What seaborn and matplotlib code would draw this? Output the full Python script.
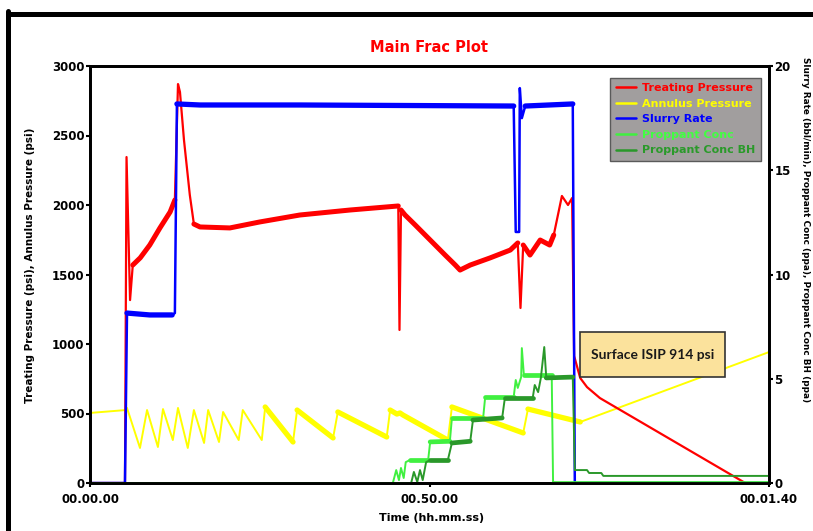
import numpy as np
import pandas as pd
import matplotlib
matplotlib.use("Agg")
import matplotlib.pyplot as plt
import seaborn as sns
from matplotlib.patches import Rectangle
from matplotlib.lines import Line2D

# ---------------- data ----------------
x_ticks = [0, 50, 100]
x_tick_labels = ["00.00.00", "00.50.00", "00.01.40"]

treating_time = [0, 5.15, 5.38, 5.9, 6.3, 7.4, 8.8, 10.3, 11.8, 12.5, 12.96, 13.25, 13.84,
                 14.7, 15.3, 16.2, 20.6, 25.0, 30.9, 38.3, 45.4, 45.58, 45.8, 46.4, 47.9,
                 50.1, 52.3, 53.8, 54.5, 56.0, 58.9, 61.9, 63.0, 63.4, 63.8, 64.8, 66.3,
                 67.7, 68.3, 69.5, 70.4, 71.0, 71.3, 72.2, 73.2, 75.1, 96.5]
treating_psi = [0, 0, 2345, 1316, 1568, 1620, 1712, 1835, 1950, 2036, 2870, 2813, 2468,
                2072, 1863, 1842, 1835, 1878, 1928, 1964, 1993, 1101, 1964, 1928, 1856,
                1748, 1640, 1568, 1532, 1568, 1619, 1676, 1727, 1259, 1712, 1640, 1748,
                1712, 1784, 2065, 2000, 2050, 914, 755, 690, 611, 0]

annulus_time = [0, 5.3, 5.45, 7.36, 8.4, 10.0, 10.75, 12.2, 12.96, 14.4, 15.3, 16.8, 17.4,
                19.0, 19.6, 21.9, 22.5, 25.3, 25.8, 29.9, 30.5, 35.8, 36.5, 43.7, 44.2,
                45.2, 45.65, 46.1, 52.7, 53.3, 63.8, 64.5, 72.2, 100]
annulus_psi = [504, 525, 540, 252, 525, 259, 532, 309, 540, 252, 525, 288, 525,
               295, 511, 309, 525, 309, 547, 295, 525, 324, 511, 331, 525,
               496, 504, 489, 309, 547, 360, 532, 439, 942]

slurry_time = [0, 5.15, 5.45, 8.8, 12.1, 12.5, 12.8, 16.2, 30.9, 62.4, 62.7, 63.2, 63.3,
               63.6, 64.1, 71.1, 71.4, 100]
slurry_rate = [0, 0, 8.15, 8.06, 8.06, 8.15, 18.18, 18.13, 18.13, 18.08, 12.04, 12.04, 18.94,
               17.5, 18.08, 18.18, 0, 0]

prop_time = [0, 44.6, 45.1, 45.5, 45.8, 46.2, 46.5, 47.1, 49.8, 50.1, 53.0, 53.3, 57.9,
             58.2, 62.4, 62.7, 63.0, 63.5, 63.6, 63.9, 68.0, 68.2, 100]
prop_conc = [0, 0, 0.62, 0.14, 0.72, 0.24, 1.0, 1.1, 1.1, 1.97, 2.0, 3.12, 3.12,
             4.12, 4.12, 4.94, 4.56, 5.08, 6.47, 5.18, 5.18, 0, 0]

bh_time = [0, 47.3, 47.7, 48.2, 48.6, 49.0, 49.5, 50.1, 52.7, 53.3, 56.0, 56.4, 60.7,
           61.1, 65.2, 65.5, 66.0, 66.4, 66.9, 67.2, 71.1, 71.4, 73.2, 73.5, 75.3, 75.6, 100]
bh_conc = [0, 0, 0.53, 0.05, 0.62, 0.14, 1.0, 1.1, 1.1, 1.92, 2.0, 3.02, 3.12,
           4.08, 4.08, 4.7, 4.36, 5.04, 6.52, 5.04, 5.08, 0.62, 0.62, 0.48, 0.48, 0.34, 0.34]

series_names = ["Treating Pressure", "Annulus Pressure", "Slurry Rate",
                "Proppant Conc", "Proppant Conc BH"]
series_colors = ["#FF0000", "#FFFF00", "#0000FF", "#40F040", "#2A982A"]
legend_text_colors = ["#FF0000", "#FFFF00", "#0000FF", "#40FF40", "#2A9A2A"]

isip_text = "Surface ISIP 914 psi"

# ---------------- figure ----------------
sns.set_theme(style="white")
plt.rcParams['font.family'] = ['DejaVu Sans']

W, H = 813, 531
fig = plt.figure(figsize=(W / 100, H / 100), dpi=100)
fig.patch.set_facecolor("white")
ax = fig.add_axes([90 / W, 1 - 483 / H, 679 / W, 417 / H])
ax2 = ax.twinx()
ax.set_facecolor("white")


def draw(axis, t, v, color, lw, thick=(), thick_lw=3.5):
    df = pd.DataFrame({"t": t, "v": v})
    sns.lineplot(data=df, x="t", y="v", ax=axis, color=color, lw=lw, sort=False,
                 estimator=None, legend=False)
    for a, b in thick:
        sub = df[(df.t >= a) & (df.t <= b)]
        sns.lineplot(data=sub, x="t", y="v", ax=axis, color=color, lw=thick_lw,
                     sort=False, estimator=None, legend=False)


# left axis series
draw(ax, annulus_time, annulus_psi, series_colors[1], 1.4,
     thick=[(25.8, 29.9), (30.5, 35.8), (36.5, 43.7), (44.2, 52.7), (53.3, 63.8), (64.5, 72.2)],
     thick_lw=3.8)
draw(ax, treating_time, treating_psi, series_colors[0], 1.6,
     thick=[(6.3, 12.5), (15.3, 45.4), (45.8, 63.0), (63.8, 68.3)], thick_lw=3.6)

# right axis series
draw(ax2, slurry_time, slurry_rate, series_colors[2], 1.8,
     thick=[(5.45, 12.1), (12.8, 62.4), (64.1, 71.1)], thick_lw=3.8)
draw(ax2, prop_time, prop_conc, series_colors[3], 1.4,
     thick=[(47.1, 49.8), (50.1, 53.0), (53.3, 57.9), (58.2, 62.4), (63.9, 68.0), (68.2, 100)],
     thick_lw=3.4)
draw(ax2, bh_time, bh_conc, series_colors[4], 1.4,
     thick=[(50.1, 52.7), (53.3, 56.0), (56.4, 60.7), (61.1, 65.2), (67.2, 71.1)],
     thick_lw=3.4)

ax.set_xlim(0, 100)
ax.set_ylim(0, 3000)
ax2.set_ylim(0, 20)
ax.set_xlabel("")
ax.set_ylabel("")
ax2.set_ylabel("")
ax.grid(False)
ax2.grid(False)

ax.set_xticks(x_ticks)
ax.set_xticklabels(x_tick_labels)
ax.set_yticks(np.arange(0, 3001, 500))
ax2.set_yticks(np.arange(0, 21, 5))

ax.tick_params(axis="x", bottom=True, direction="out", length=3, width=1.5,
               labelsize=8.5, pad=4, colors="black")
ax.tick_params(axis="y", left=True, direction="out", length=3, width=1.5,
               labelsize=8.5, pad=1, colors="black")
ax2.tick_params(axis="y", right=True, direction="out", length=3, width=1.5,
                labelsize=8.5, pad=1, colors="black")
for lab in ax.get_xticklabels() + ax.get_yticklabels() + ax2.get_yticklabels():
    lab.set_fontweight("bold")

for a in (ax, ax2):
    for s in a.spines.values():
        s.set_visible(True)
        s.set_color("black")
        s.set_linewidth(2)

# labels & title
fig.text(429 / W, 1 - 47 / H, "Main Frac Plot", color="#FF0000", fontsize=10.5,
         fontweight="bold", ha="center", va="center")
fig.text(432 / W, 1 - 518 / H, "Time (hh.mm.ss)", fontsize=8, fontweight="bold",
         ha="center", va="center", color="black")
fig.text(30 / W, 1 - 265 / H, "Treating Pressure (psi), Annulus Pressure (psi)",
         fontsize=7.5, fontweight="bold", rotation=90, ha="center", va="center", color="black")
fig.text(805 / W, 1 - 230 / H,
         "Slurry Rate (bbl/min), Proppant Conc (ppa), Proppant Conc BH (ppa)",
         fontsize=6.4, fontweight="bold", rotation=270, ha="center", va="center", color="black")

# legend
handles = [Line2D([0], [0], color=c, lw=1.8) for c in series_colors]
leg = ax2.legend(handles, series_names, loc="upper right", bbox_to_anchor=(0.988, 0.972),
                 frameon=True, fancybox=False, framealpha=1, facecolor="#A19E9E",
                 edgecolor="#5A5A5A", prop={"weight": "bold", "size": 8},
                 handlelength=1.8, handletextpad=0.55, labelspacing=0.5,
                 borderpad=0.5, borderaxespad=0)
for txt, c in zip(leg.get_texts(), legend_text_colors):
    txt.set_color(c)
leg.set_zorder(20)

# ISIP annotation box (drawn in left-axis units, on top of all lines)
box = Rectangle((72.2, 763), 21.3, 323, transform=ax.transData, facecolor="#FBE29C",
                edgecolor="#333333", lw=1.2, zorder=15)
ax2.add_patch(box)
ax2.text(82.85, 924, isip_text, transform=ax.transData, ha="center", va="center",
         fontsize=10, fontweight="bold", family="Lato", color="#1A1A1A", zorder=16)

# outer frame (left and top edges visible in the crop)
fig.add_artist(Line2D([7.5 / W, 7.5 / W], [0, 1 - 11 / H], transform=fig.transFigure,
                      color="black", lw=3.6))
fig.add_artist(Line2D([7.5 / W, 1], [1 - 13.5 / H, 1 - 13.5 / H], transform=fig.transFigure,
                      color="black", lw=3.6))

fig.savefig("out.png", dpi=100, facecolor="white")
